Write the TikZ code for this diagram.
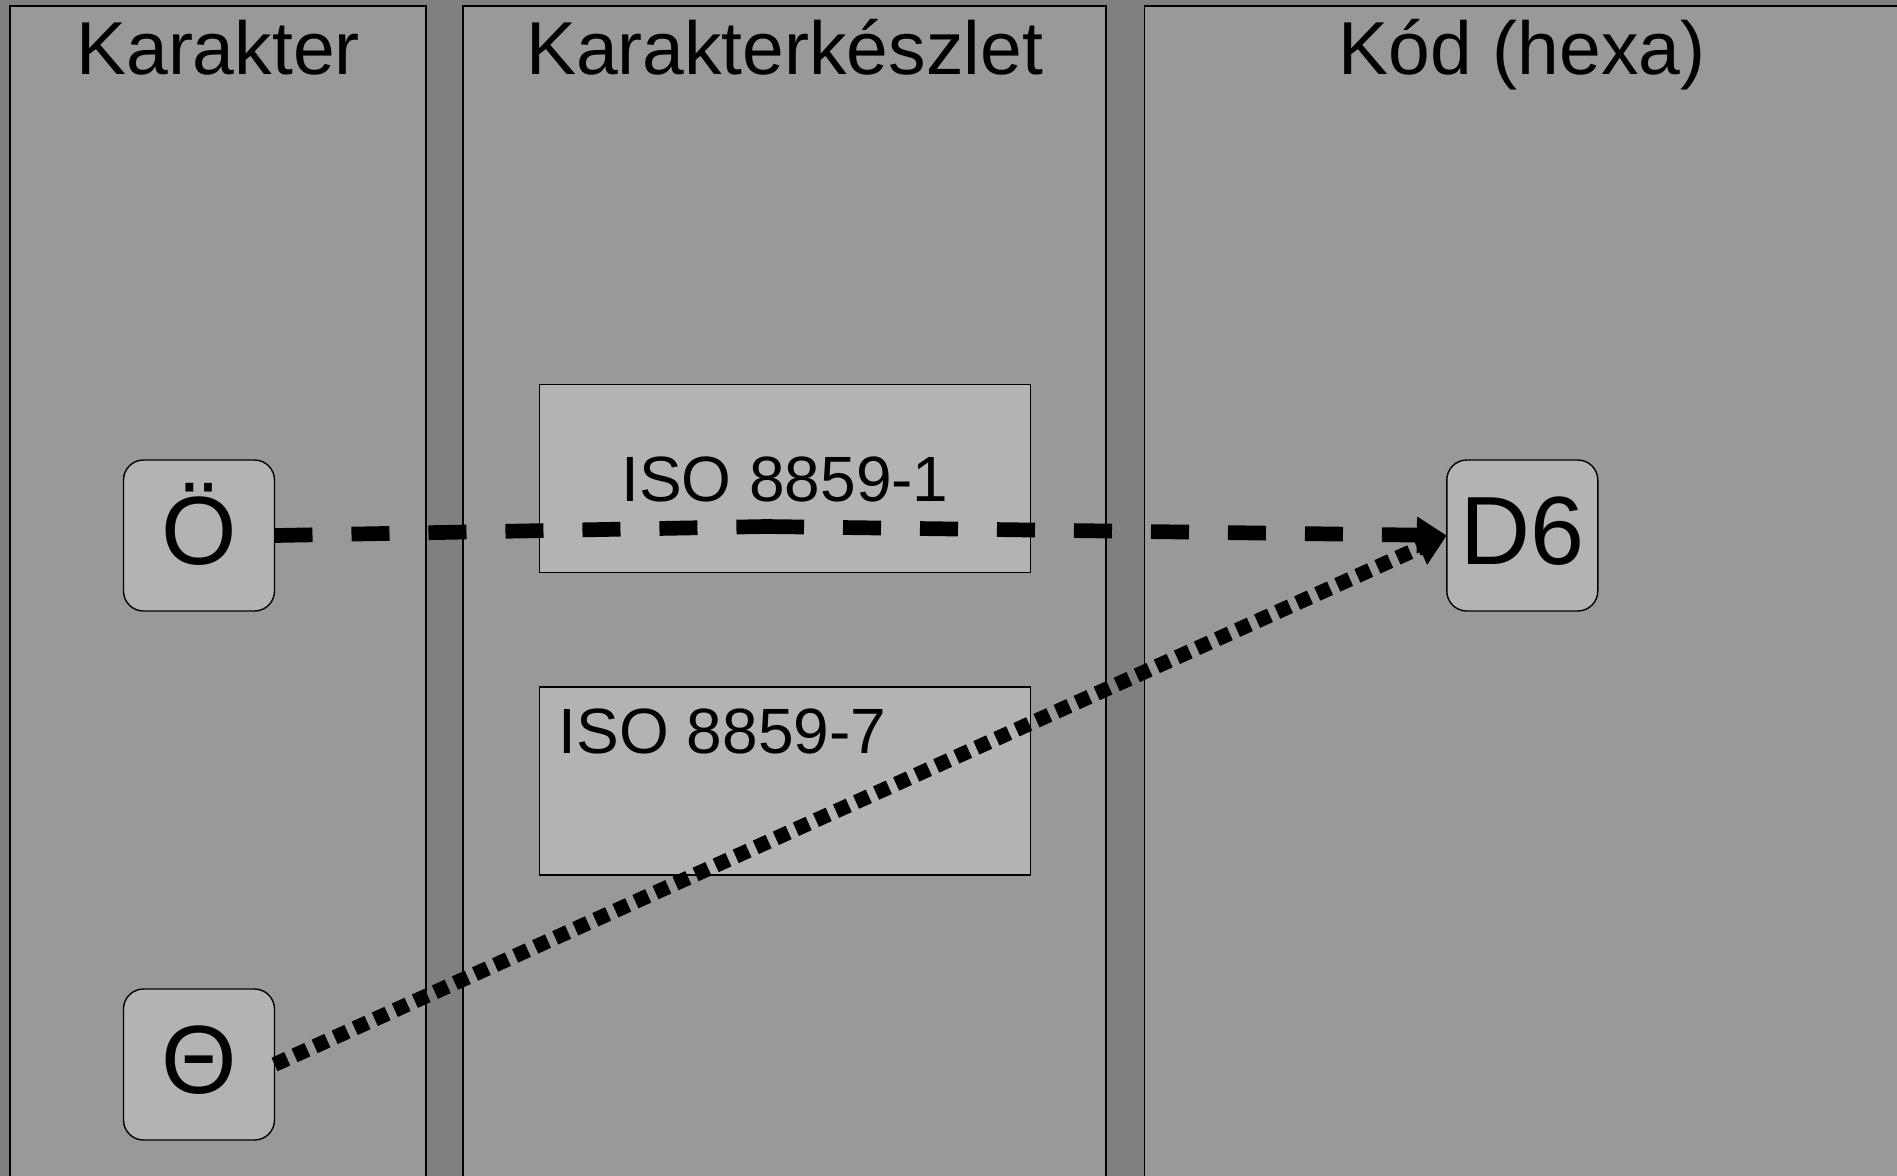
\documentclass[tikz,border=0pt]{standalone}
\usepackage{fontspec}
\setmainfont{Liberation Sans}
\usetikzlibrary{arrows.meta}
\definecolor{lanebg}{HTML}{808080}
\definecolor{lanefill}{HTML}{999999}
\definecolor{boxfill}{HTML}{B3B3B3}
\tikzset{
  lane/.style={fill=lanefill, draw=black, line width=0.75pt},
  lanetitle/.style={font=\fontsize{37.5}{42}\selectfont, anchor=base, inner sep=0pt},
  symbox/.style={draw=black, line width=0.7pt, fill=boxfill, rounded corners=10pt,
    minimum width=75.5pt, minimum height=75.5pt, inner sep=0pt, outer sep=0pt,
    font=\fontsize{48.5}{50}\selectfont, text height=35pt, text depth=5.8pt},
  setbox/.style={draw=black, line width=0.7pt, fill=boxfill,
    minimum width=245.5pt, minimum height=94pt, inner sep=0pt,
    font=\fontsize{32}{36}\selectfont, text height=23pt, text depth=0pt},
  settext/.style={font=\fontsize{32}{36}\selectfont, inner sep=0pt},
  dashline/.style={line width=7.35pt, dash pattern=on 19pt off 19.5pt},
  dashlink/.style={dashline, -{Triangle[length=15pt,width=17.5pt]}},
  dotlink/.style={line width=7.35pt, dash pattern=on 7pt off 4pt,
    -{Triangle[length=15pt,width=17.5pt]}},
}
\begin{document}
\begin{tikzpicture}[x=0.5pt,y=-0.5pt]
  % page frame, background and the three lanes
  \useasboundingbox (0,0) rectangle (1897,1175);
  \fill[lanebg] (-10,-10) rectangle (1910,1190);
  \draw[lane] (10,6) rectangle (426,1200);
  \draw[lane] (463,6) rectangle (1106,1200);
  \draw[lane] (1144.5,6) rectangle (1920,1200);

  % lane titles
  \node[lanetitle] (t1) at (218,74) {Karakter};
  \node[lanetitle] (t2) at (784.5,74) {Karakterkészlet};
  \node[lanetitle] (t3) at (1522,74) {Kód (hexa)};

  % character sets
  \node[setbox] (iso1) at (785,478.5) {ISO 8859-1};
  \node[setbox] (iso7) at (785,781) {};
  \node[settext, anchor=base west] (iso7t) at (558.5,753) {ISO 8859-7};

  % characters and code
  \node[symbox] (o) at (199,535.5) {Ö};
  \node[symbox] (theta) at (199,1064.5) {Θ};
  \node[symbox] (d6) at (1522.3,535.5) {D6};

  % mappings: Ö passes through ISO 8859-1, Θ goes straight to the code
  \coordinate (bend) at (766,526.5);
  \draw[dashline] (o.east) -- (bend);
  \draw[dashlink] (bend) -- (d6.west);
  \draw[dotlink] (theta.east) -- (d6.west);
\end{tikzpicture}
\end{document}
